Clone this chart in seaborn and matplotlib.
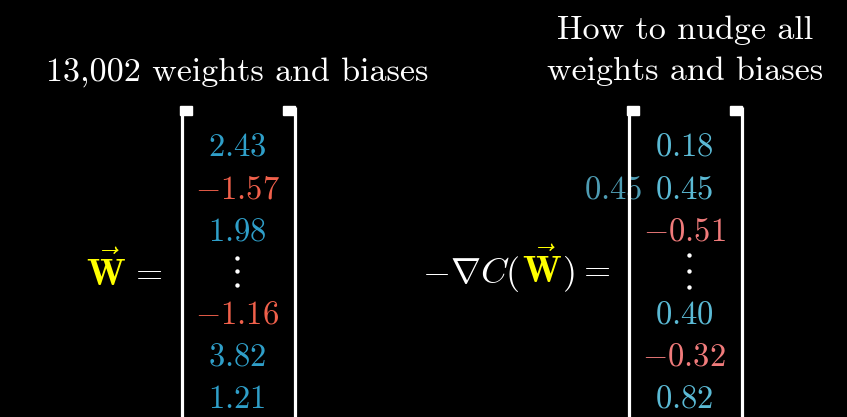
import numpy as np
import pandas as pd
import matplotlib
matplotlib.use("Agg")
import matplotlib.pyplot as plt
import seaborn as sns

# Vector entries (None = vertical dots row)
left_values = [2.43, -1.57, 1.98, None, -1.16, 3.82, 1.21]
right_values = [0.18, 0.45, -0.51, None, 0.40, -0.32, 0.82]
ghost_value = 0.45
left_title = "13,002 weights and biases"
right_title = ["How to nudge all", "weights and biases"]

# Colours
BLUE_L, RED_L = "#2F9FC9", "#F0604B"
BLUE_R, RED_R = "#5BBAD5", "#F07B7B"
GHOST = "#4E9CB3"
YELLOW = "#FFFF00"

sns.set_style("dark", {"axes.facecolor": "black", "figure.facecolor": "black"})
plt.rcParams["mathtext.fontset"] = "cm"


def fmt(v):
    return r"$%s$" % ("-%.2f" % abs(v) if v < 0 else "%.2f" % v)


fig = plt.figure(figsize=(8.47, 4.17), dpi=100)
ax = fig.add_axes([0, 0, 1, 1])
ax.set_xlim(0, 847)
ax.set_ylim(417, 0)
ax.axis("off")

row_y = 145 + 42 * np.arange(len(left_values))
df = pd.DataFrame({"row": row_y, "left": left_values, "right": right_values})


def draw_column(values, x, blue, red, dot_x, dot_gap):
    for y, v in zip(df["row"], values):
        if v is None or pd.isna(v):
            ax.scatter([dot_x] * 3, [y - dot_gap, y, y + dot_gap], s=10,
                       color="white", zorder=3, linewidths=0)
            continue
        ax.text(x, y + 11, fmt(v), color=red if v < 0 else blue,
                fontsize=23.5, ha="center", va="baseline", zorder=3)


def draw_bracket(xl, xr):
    # xl / xr = left edge of each vertical line
    for x, sq in [(xl, xl), (xr, xr - 10)]:
        ax.plot([x + 1.5, x + 1.5], [107, 420], color="white", lw=2.3,
                solid_capstyle="butt", zorder=4)
        ax.add_patch(plt.Rectangle((sq, 106), 12, 9, color="white", zorder=4))


# Left vector
draw_bracket(180, 293)
draw_column(df["left"], 237, BLUE_L, RED_L, 237, 13.5)
ax.text(106, 286, r"$\vec{\mathbf{W}}$", color=YELLOW, fontsize=27,
        ha="center", va="baseline")
ax.text(150, 284, "=", color="white", fontsize=25, family="cmr10",
        ha="center", va="baseline")
ax.text(237, 81, left_title, color="white", fontsize=24.5, family="cmr10",
        ha="center", va="baseline")

# Right vector
draw_bracket(627, 740)
ax.text(613, row_y[1] + 11, fmt(ghost_value), color=GHOST, fontsize=23.5,
        ha="center", va="baseline", zorder=2)
draw_column(df["right"], 684, BLUE_R, RED_R, 689, 16)
ax.text(520, 283, r"$-\nabla C($", color="white", fontsize=26,
        ha="right", va="baseline")
ax.text(542, 283, r"$\vec{\mathbf{W}}$", color=YELLOW, fontsize=27,
        ha="center", va="baseline")
ax.text(562, 283, r"$)$", color="white", fontsize=26,
        ha="left", va="baseline")
ax.text(597, 281, "=", color="white", fontsize=25, family="cmr10",
        ha="center", va="baseline")
ax.text(685, 39, right_title[0], color="white", fontsize=24.5, family="cmr10",
        ha="center", va="baseline")
ax.text(685, 80, right_title[1], color="white", fontsize=24.5, family="cmr10",
        ha="center", va="baseline")

fig.savefig("out.png", dpi=100, facecolor="black")
